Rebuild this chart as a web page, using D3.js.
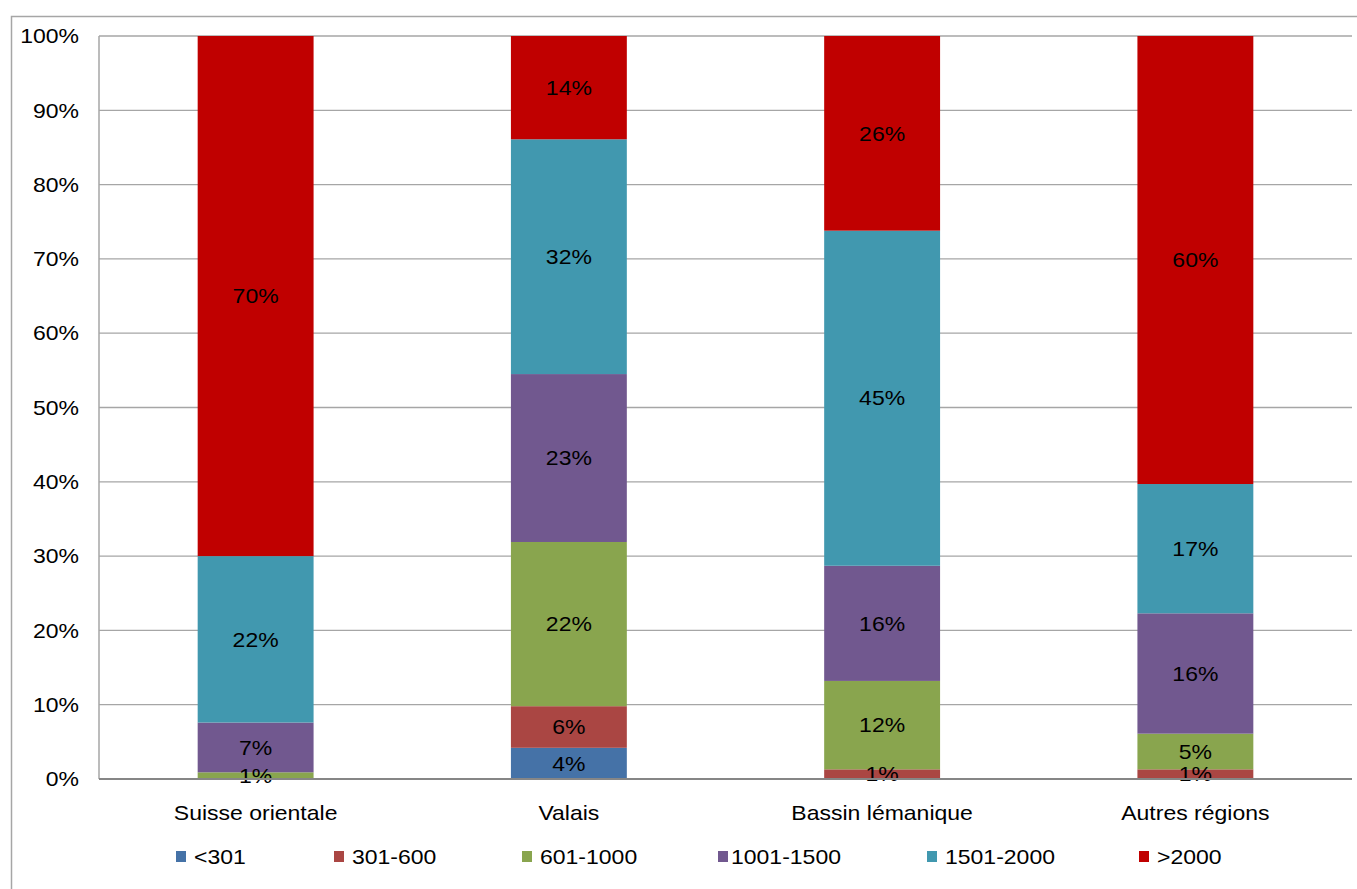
<!DOCTYPE html>
<html><head><meta charset="utf-8">
<script src="https://cdn.jsdelivr.net/npm/d3@7"></script>
<style>body{margin:0;background:#fff}svg{display:block}text{font-family:"Liberation Sans",Arial,sans-serif;fill:#000}</style>
</head><body>
<script>
const categories = ["Suisse orientale","Valais","Bassin lémanique","Autres régions"];
const seriesNames = ["<301","301-600","601-1000","1001-1500","1501-2000",">2000"];
const seriesColors = ["#4572A7","#AA4643","#89A54E","#71588F","#4198AF","#C00000"];
const s_lt301     = [0,   4.2, 0,    0];
const s_301_600   = [0,   5.6, 1.3,  1.3];
const s_601_1000  = [0.9, 22.1, 11.9, 4.8];
const s_1001_1500 = [6.7, 22.6, 15.5, 16.2];
const s_1501_2000 = [22.4, 31.6, 45.1, 17.4];
const s_gt2000    = [70.0, 13.9, 26.2, 60.3];
const yTicks = [0,10,20,30,40,50,60,70,80,90,100];

const series = [s_lt301,s_301_600,s_601_1000,s_1001_1500,s_1501_2000,s_gt2000];
const W=1357,H=889, SX=1.15;
const svg=d3.select("body").append("svg").attr("width",W).attr("height",H);
const L=99,R=1352,T=36,B=779;
svg.append("rect").attr("x",11.5).attr("y",16.5).attr("width",1360).attr("height",900)
  .attr("fill","none").attr("stroke","#a6a6a6").attr("stroke-width",1.5);

const x=d3.scaleBand().domain(categories).range([L,R]).paddingInner(0.63).paddingOuter(0.315);
const y=d3.scaleLinear().domain([0,100]).range([B,T]);

function txt(sel,fx,fy){ return sel.attr("transform",(d,i)=>`translate(${fx(d,i)},${fy(d,i)}) scale(${SX},1)`); }

svg.append("g").selectAll("line").data(yTicks.filter(d=>d>0)).join("line")
  .attr("x1",L).attr("x2",R).attr("y1",d=>y(d)).attr("y2",d=>y(d))
  .attr("stroke","#a6a6a6").attr("stroke-width",1.3);

const rows=categories.map((c,i)=>{const o={cat:c};seriesNames.forEach((s,j)=>o[s]=series[j][i]);return o;});
const stacked=d3.stack().keys(seriesNames)(rows);

const g=svg.append("g");
stacked.forEach((layer,j)=>{
  g.selectAll(null).data(layer).join("rect")
    .attr("x",d=>x(d.data.cat)).attr("width",x.bandwidth())
    .attr("y",d=>y(d[1])).attr("height",d=>y(d[0])-y(d[1]))
    .attr("fill",seriesColors[j]);
});
stacked.forEach((layer,j)=>{
  txt(g.selectAll(null).data(layer.filter(d=>d[1]-d[0]>0)).join("text"),
      d=>x(d.data.cat)+x.bandwidth()/2, d=>(y(d[0])+y(d[1]))/2)
    .attr("dy","0.36em").attr("text-anchor","middle").attr("font-size",20)
    .text(d=>Math.round(d[1]-d[0])+"%");
});

svg.append("line").attr("x1",L).attr("x2",L).attr("y1",T).attr("y2",B).attr("stroke","#a6a6a6").attr("stroke-width",1.5);
svg.append("line").attr("x1",L).attr("x2",R).attr("y1",B).attr("y2",B).attr("stroke","#868686").attr("stroke-width",2);

txt(svg.append("g").selectAll("text").data(yTicks).join("text"), d=>79, d=>y(d))
  .attr("dy","0.36em").attr("text-anchor","end").attr("font-size",20)
  .text(d=>d+"%");
txt(svg.append("g").selectAll("text").data(categories).join("text"), d=>x(d)+x.bandwidth()/2, d=>813)
  .attr("dy","0.36em").attr("text-anchor","middle").attr("font-size",20)
  .text(d=>d);

const legX=[176,334,522,718,927,1139];
const lg=svg.append("g");
seriesNames.forEach((s,j)=>{
  lg.append("rect").attr("x",legX[j]).attr("y",851).attr("width",10).attr("height",11).attr("fill",seriesColors[j]);
  lg.append("text").attr("transform",`translate(${legX[j]+(j===3?13:18)},857) scale(${SX},1)`)
    .attr("dy","0.36em").attr("font-size",20).text(s);
});
</script>
</body></html>
